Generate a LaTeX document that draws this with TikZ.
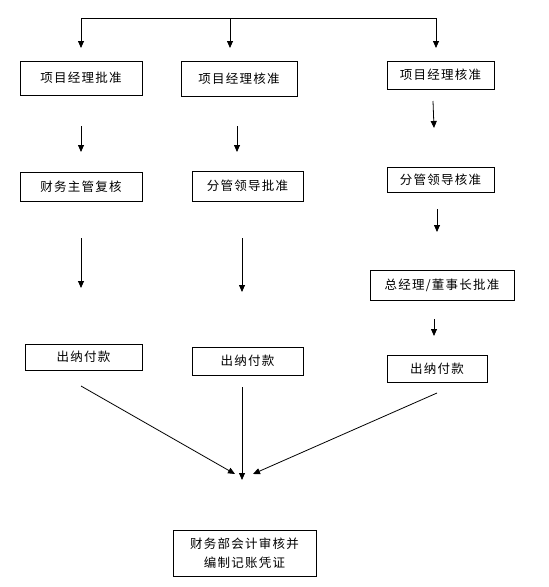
\documentclass[tikz,border=0pt]{standalone}
\usepackage{fontspec}
\newfontfamily\cjk[LetterSpace=10]{Noto Sans CJK SC}
\usetikzlibrary{arrows.meta}
\tikzset{
  box/.style={draw, line width=0.8pt, inner sep=0pt, align=center, font=\cjk\fontsize{12.5}{19}\selectfont},
  flow/.style={line width=0.8pt, -{Triangle[length=7pt,width=6pt]}}
}
\begin{document}
\begin{tikzpicture}[x=1pt,y=1pt,yscale=-1,xscale=1]
\useasboundingbox (0,0) rectangle (549,587);

% Box
\node (b1) [box, minimum width=122, minimum height=34] at (81,78) {项目经理批准};
\node (b2) [box, minimum width=116, minimum height=35] at (239,78.5) {项目经理核准};
\node (b3) [box, minimum width=107, minimum height=28] at (440.5,75) {项目经理核准};
\node (b4) [box, minimum width=122, minimum height=29] at (81,186.5) {财务主管复核};
\node (b5) [box, minimum width=111, minimum height=30] at (247.5,186) {分管领导批准};
\node (b6) [box, minimum width=107, minimum height=25] at (440.5,179.5) {分管领导核准};
\node (b7) [box, minimum width=144, minimum height=30] at (442,285) {总经理/董事长批准};
\node (b8) [box, minimum width=117, minimum height=26] at (83.5,357) {出纳付款};
\node (b9) [box, minimum width=111, minimum height=28] at (247.5,361) {出纳付款};
\node (b10) [box, minimum width=100, minimum height=27] at (437,368.5) {出纳付款};
\node (b11) [box, minimum width=143, minimum height=46] at (244.5,553) {财务部会计审核并\\编制记账凭证};

% Points
\coordinate (tl) at (81,18);
\coordinate (tm) at (230,18);
\coordinate (tr) at (436,18);
\coordinate (p1) at (81,48);
\coordinate (p2) at (230,48);
\coordinate (p3) at (436,48);

%Straight Lines
\draw [line width=0.8pt] (tl) -- (tr);
\draw [flow] (tl) -- (p1);
\draw [flow] (tm) -- (p2);
\draw [flow] (tr) -- (p3);

%Straight Lines
\coordinate (s1) at (81,126);  \coordinate (e1) at (81,152);
\coordinate (s2) at (237,126); \coordinate (e2) at (237,152);
\coordinate (s3) at (433,101); \coordinate (e3) at (434,128);
\draw [flow] (s1) -- (e1);
\draw [flow] (s2) -- (e2);
\draw [flow] (s3) -- (e3);

%Straight Lines
\coordinate (s4) at (81,238);  \coordinate (e4) at (81,288);
\coordinate (s5) at (242,238); \coordinate (e5) at (242,292);
\coordinate (s6) at (437,209); \coordinate (e6) at (437,232);
\coordinate (s7) at (434,319); \coordinate (e7) at (434,336);
\draw [flow] (s4) -- (e4);
\draw [flow] (s5) -- (e5);
\draw [flow] (s6) -- (e6);
\draw [flow] (s7) -- (e7);

%Straight Lines
\coordinate (s8) at (81,386);  \coordinate (e8) at (235,474);
\coordinate (s9) at (242,387); \coordinate (e9) at (242,480);
\coordinate (s10) at (437,393); \coordinate (e10) at (253,474);
\draw [flow] (s8) -- (e8);
\draw [flow] (s9) -- (e9);
\draw [flow] (s10) -- (e10);

\end{tikzpicture}
\end{document}
